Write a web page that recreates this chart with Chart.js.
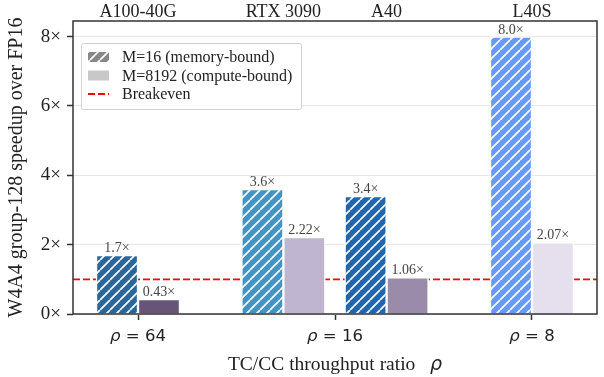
<!DOCTYPE html>
<html>
<head>
<meta charset="utf-8">
<script src="https://cdn.jsdelivr.net/npm/chart.js@4.4.1/dist/chart.umd.min.js"></script>
<style>
  html, body { margin: 0; padding: 0; background: #fff; }
  #wrap { width: 604px; height: 377px; }
</style>
</head>
<body>
<div id="wrap"><canvas id="chart"></canvas></div>
<script>
// Data
const devices        = ['A100-40G', 'RTX 3090', 'A40', 'L40S'];
const deviceRho      = [0, 1, 1, 2];            // index into rhoValues
const rhoValues      = [64, 16, 8];
const memSpeedup     = [1.7, 3.6, 3.4, 8.0];     // M=16
const computeSpeedup = [0.43, 2.22, 1.06, 2.07]; // M=8192
const breakeven      = 1;
const yTicks         = [0, 2, 4, 6, 8];

// Styling
const memColors     = ['#2b6699', '#4393c3', '#2166ac', '#6699ff'];
const computeColors = ['#665577', '#bfb5d0', '#9b8baa', '#e6e0ee'];
const serif = '"Liberation Serif", "Times New Roman", serif';
const sans  = '"DejaVu Sans", sans-serif';

// Layout in axis units
const xMin = -0.33, xMax = 2.33, yMax = 8.45;
const barPitch    = 0.213;  // one bar incl. its white edge
const devicePitch = 0.524;  // device centres sharing one ρ

const devicePos = devices.map((d, i) => {
  const peers = devices.map((_, j) => j).filter((j) => deviceRho[j] === deviceRho[i]);
  const k = peers.indexOf(i);
  return deviceRho[i] + (k - (peers.length - 1) / 2) * devicePitch;
});

// White "///" hatch on a colour
function hatch(color, size = 10) {
  const c = document.createElement('canvas');
  c.width = c.height = size;
  const g = c.getContext('2d');
  g.fillStyle = color;
  g.fillRect(0, 0, size, size);
  g.strokeStyle = '#fff';
  g.lineWidth = 1.7;
  g.beginPath();
  for (let k = -1; k <= 1; k++) {
    g.moveTo(k * size, size);
    g.lineTo(k * size + size, 0);
  }
  g.stroke();
  return g.createPattern(c, 'repeat');
}

// "ρ" in italic sans followed by plain text, centred on cx
function rhoText(ctx, before, after, cx, cy, size, beforeFont) {
  const fb = beforeFont, fr = 'italic ' + size + 'px ' + sans, fa = size + 'px ' + sans;
  ctx.font = fb; const wb = before ? ctx.measureText(before).width : 0;
  ctx.font = fr; const wr = ctx.measureText('ρ').width;
  ctx.font = fa; const wa = after ? ctx.measureText(after).width : 0;
  let x0 = cx - (wb + wr + wa) / 2;
  ctx.textAlign = 'left';
  ctx.textBaseline = 'middle';
  if (before) { ctx.font = fb; ctx.fillText(before, x0, cy); x0 += wb; }
  ctx.font = fr; ctx.fillText('ρ', x0, cy); x0 += wr;
  if (after) { ctx.font = fa; ctx.fillText(after, x0, cy); }
}

Chart.defaults.font.family = serif;
Chart.defaults.color = '#222';

// Frame, value labels, device names, ρ labels and legend
const decorations = {
  id: 'decorations',
  afterDatasetsDraw(chart) {
    const { ctx, chartArea: a, scales: { x } } = chart;
    ctx.save();

    ctx.strokeStyle = '#333';
    ctx.lineWidth = 1.5;
    ctx.strokeRect(a.left, a.top, a.right - a.left, a.bottom - a.top);

    ctx.textAlign = 'center';
    ctx.textBaseline = 'alphabetic';
    ctx.font = '14px ' + serif;
    ctx.fillStyle = '#444';
    [[0, memSpeedup, 1], [1, computeSpeedup, 2]].forEach(([di, vals, dec]) => {
      chart.getDatasetMeta(di).data.forEach((el, i) => {
        ctx.fillText(vals[i].toFixed(dec) + '×', el.x, el.y - 3);
      });
    });

    ctx.font = '18px ' + serif;
    ctx.fillStyle = '#222';
    devices.forEach((d, i) => ctx.fillText(d, x.getPixelForValue(devicePos[i]), a.top - 4));

    // x tick labels and axis title
    rhoValues.forEach((r, i) => {
      rhoText(ctx, '', ' = ' + r, x.getPixelForValue(i), a.bottom + 23, 16.5, '');
    });
    const tf = '19.5px ' + serif;
    rhoText(ctx, 'TC/CC throughput ratio   ', '', (a.left + a.right) / 2, a.bottom + 51, 19, tf);

    // legend
    const lx = a.left + 8, ly = a.top + 22, lw = 220, lh = 66;
    ctx.fillStyle = 'rgba(255,255,255,0.85)';
    ctx.strokeStyle = '#d0d0d0';
    ctx.lineWidth = 1;
    ctx.beginPath();
    ctx.roundRect(lx + 0.5, ly + 0.5, lw, lh, 2);
    ctx.fill();
    ctx.stroke();

    const ds = chart.data.datasets;
    const rows = [ly + 14, ly + 32.5, ly + 51];
    const sx = lx + 7, sw = 21, sh = 10;
    ctx.fillStyle = hatch('#888');
    ctx.fillRect(sx, rows[0] - sh / 2, sw, sh);
    ctx.fillStyle = '#c8c8c8';
    ctx.fillRect(sx, rows[1] - sh / 2, sw, sh);
    ctx.strokeStyle = '#ff0000';
    ctx.lineWidth = 1.8;
    ctx.setLineDash([7, 3]);
    ctx.beginPath();
    ctx.moveTo(sx, rows[2]);
    ctx.lineTo(sx + sw, rows[2]);
    ctx.stroke();
    ctx.setLineDash([]);

    ctx.font = '16px ' + serif;
    ctx.fillStyle = '#222';
    ctx.textAlign = 'left';
    ctx.textBaseline = 'middle';
    rows.forEach((ry, i) => ctx.fillText(ds[i].label, lx + 41, ry + 1));

    ctx.restore();
  }
};

new Chart(document.getElementById('chart'), {
  data: {
    datasets: [
      {
        type: 'bar',
        label: 'M=16 (memory-bound)',
        data: memSpeedup.map((v, i) => ({ x: devicePos[i] - barPitch / 2, y: v })),
        backgroundColor: memColors.map((c) => hatch(c)),
        borderColor: '#fff',
        borderWidth: 1.5,
        grouped: false,
        barPercentage: 1,
        categoryPercentage: 1,
        order: 1
      },
      {
        type: 'bar',
        label: 'M=8192 (compute-bound)',
        data: computeSpeedup.map((v, i) => ({ x: devicePos[i] + barPitch / 2, y: v })),
        backgroundColor: computeColors,
        borderColor: '#fff',
        borderWidth: 1.5,
        grouped: false,
        barPercentage: 1,
        categoryPercentage: 1,
        order: 1
      },
      {
        type: 'line',
        label: 'Breakeven',
        data: [{ x: xMin, y: breakeven }, { x: xMax, y: breakeven }],
        borderColor: '#ff0000',
        borderWidth: 1.8,
        borderDash: [7, 3],
        pointRadius: 0,
        order: 2
      }
    ]
  },
  options: {
    responsive: true,
    maintainAspectRatio: false,
    animation: false,
    events: [],
    layout: { padding: { top: 21, right: 7, left: 0, bottom: 0 } },
    plugins: { legend: { display: false }, tooltip: { enabled: false } },
    scales: {
      x: {
        type: 'linear',
        offset: false,
        min: xMin,
        max: xMax,
        afterBuildTicks: (s) => { s.ticks = rhoValues.map((_, i) => ({ value: i })); },
        afterFit: (s) => { s.height = 63; },
        ticks: { display: false },
        grid: { offset: false, drawOnChartArea: false, tickLength: 6, tickColor: '#333', tickWidth: 1.5 },
        border: { display: false }
      },
      y: {
        min: 0,
        max: yMax,
        afterBuildTicks: (s) => { s.ticks = yTicks.map((v) => ({ value: v })); },
        afterFit: (s) => { s.width = 73; },
        ticks: {
          callback: (v) => v + '×',
          font: { size: 19 },
          color: '#222',
          padding: 6
        },
        grid: { color: '#e6e6e6', lineWidth: 1, tickLength: 6, tickColor: '#333', tickWidth: 1.5 },
        border: { display: false },
        title: {
          display: true,
          text: 'W4A4 group-128 speedup over FP16',
          font: { size: 20, lineHeight: 1.2 },
          color: '#222',
          padding: { top: 5, bottom: 0 }
        }
      }
    }
  },
  plugins: [decorations]
});
</script>
</body>
</html>
